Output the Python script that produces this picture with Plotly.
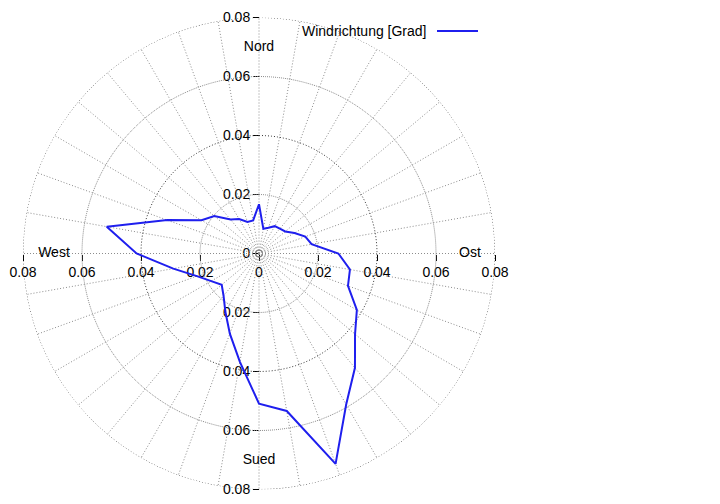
import plotly.graph_objects as go

# --------------------------
# Data: relative frequency of wind direction (10 degree bins, 0 = Nord)
# --------------------------
directions = list(range(0, 360, 10))
freq = [0.0167, 0.0085, 0.0093, 0.0107, 0.0110, 0.0116, 0.0139, 0.0167, 0.0181,
        0.0269, 0.0313, 0.0321, 0.0383, 0.0425, 0.0506, 0.0591, 0.0759, 0.0542,
        0.0509, 0.0373, 0.0289, 0.0228, 0.0187, 0.0165, 0.0187, 0.0224, 0.0295,
        0.0415, 0.0524, 0.0331, 0.0225, 0.0198, 0.0150, 0.0135, 0.0114, 0.0114]

compass_names = ["Nord", "Ost", "Sued", "West"]
compass_angles = [0, 90, 180, 270]

ring_values = [0.02, 0.04, 0.06, 0.08]
axis_ticks = [-0.08, -0.06, -0.04, -0.02, 0, 0.02, 0.04, 0.06, 0.08]
axis_labels = ["0.08", "0.06", "0.04", "0.02", "0", "0.02", "0.04", "0.06", "0.08"]

FONT = "Liberation Sans, Arial, sans-serif"
RMAX = 0.08
FINE_DOT = "1px,2px"

# plot area in figure px (page body adds ~8px offset, compensated here)
W, H = 720, 504
cx, cy, rad = 251, 245.5, 236
dom_x = [(cx - rad) / W, (cx + rad) / W]
dom_y = [1 - (cy + rad) / H, 1 - (cy - rad) / H]

fig = go.Figure()

# grid circles: grey at 0.02/0.06, dark dotted at 0.04/0.08
circle_theta = list(range(0, 361))
for rv in ring_values:
    major = rv in (0.04, 0.08)
    fig.add_trace(go.Scatterpolar(
        r=[rv] * len(circle_theta), theta=circle_theta, mode="lines",
        line=dict(color="#333333" if major else "#8a8a8a", width=1,
                  dash=FINE_DOT if major else "1px,1px"),
        hoverinfo="skip", showlegend=False))

# data line (closed)
fig.add_trace(go.Scatterpolar(
    r=freq + freq[:1], theta=directions + directions[:1], mode="lines",
    line=dict(color="#1f1fee", width=2),
    name="Windrichtung [Grad]", showlegend=False))

# compass labels
fig.add_trace(go.Scatterpolar(
    r=[0.0697, 0.0715, 0.07, 0.0695], theta=compass_angles, mode="text",
    text=compass_names,
    textfont=dict(family=FONT, size=14, color="black"),
    hoverinfo="skip", showlegend=False))

# centre marker on the cartesian overlay (keeps the tick axes drawn)
fig.add_trace(go.Scatter(
    x=[0], y=[0], mode="markers",
    marker=dict(symbol="circle-dot", size=7, color="rgba(0,0,0,0)",
                line=dict(color="#555555", width=1)),
    hoverinfo="skip", showlegend=False))

axis_style = dict(range=[-RMAX, RMAX], anchor="free", tickvals=axis_ticks,
                  ticktext=axis_labels, ticks="outside", ticklen=6,
                  tickcolor="black", showline=False, showgrid=False,
                  zeroline=False, fixedrange=True, automargin=False,
                  tickfont=dict(family=FONT, size=14, color="black"))

fig.update_layout(
    template="none",
    width=W, height=H,
    margin=dict(l=0, r=0, t=0, b=0, autoexpand=False),
    paper_bgcolor="white", plot_bgcolor="rgba(0,0,0,0)",
    font=dict(family=FONT, size=14, color="black"),
    polar=dict(
        domain=dict(x=dom_x, y=dom_y),
        bgcolor="rgba(0,0,0,0)",
        radialaxis=dict(range=[0, RMAX], showgrid=False, showticklabels=False,
                        showline=False, ticks=""),
        angularaxis=dict(rotation=90, direction="clockwise", dtick=10,
                         showticklabels=False, ticks="", showline=False,
                         gridcolor="#8c8c8c", gridwidth=1, griddash=FINE_DOT),
    ),
    xaxis=dict(domain=dom_x, position=1 - cy / H, side="bottom", **axis_style),
    yaxis=dict(domain=dom_y, position=cx / W, side="left", **axis_style),
)

# legend drawn gnuplot style: text on the left, line sample on the right
ly = 1 - 23 / H
fig.add_annotation(x=421 / W, y=ly, xref="paper", yref="paper",
                   text="Windrichtung [Grad]", showarrow=False,
                   xanchor="right", yanchor="middle",
                   font=dict(family=FONT, size=14, color="black"))
fig.add_shape(type="line", xref="paper", yref="paper",
              x0=429 / W, x1=470 / W, y0=ly, y1=ly,
              line=dict(color="#1f1fee", width=2))

fig.write_html("out.html")
